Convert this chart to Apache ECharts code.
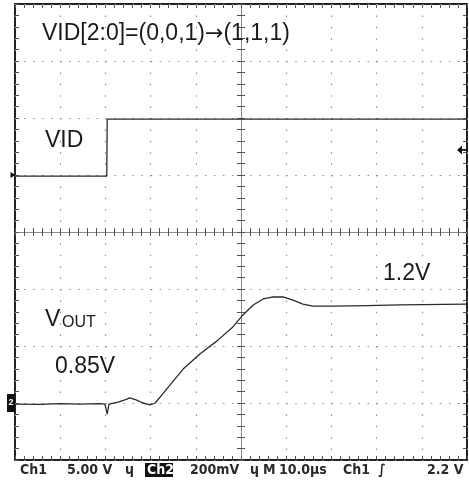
<!DOCTYPE html>
<html>
<head>
<meta charset="utf-8">
<style>
  html, body { margin: 0; padding: 0; background: #fff; }
  #chart { width: 469px; height: 485px; }
</style>
<script src="https://cdn.jsdelivr.net/npm/echarts@6/dist/echarts.min.js"></script>
</head>
<body>
<div id="chart"></div>
<script>
// Time in microseconds relative to the trigger (screen centre), 10 us/div
const vidTime  = [-50, -29.7, -29.6, 50];
const vidVolts = [-0.1, -0.1, 4.9, 4.9];          // Ch1, 5.00 V/div

const voutTime  = [-50, -44.5, -40, -35.6, -31.2, -30.1, -29.6, -29.2, -27.2, -25.7, -24.6, -23.2, -21.7, -20.1, -19.0, -17.3, -15.0, -12.8, -9.1, -5.3, -1.8, 0.2, 2.7, 4.9, 7.1, 9.3, 11.5, 13.7, 15.9, 20.4, 27.9, 35.2, 50];
const voutVolts = [0.846, 0.845, 0.848, 0.846, 0.848, 0.846, 0.811, 0.846, 0.853, 0.861, 0.868, 0.861, 0.850, 0.843, 0.850, 0.882, 0.927, 0.969, 1.022, 1.068, 1.117, 1.155, 1.194, 1.215, 1.222, 1.222, 1.211, 1.197, 1.190, 1.190, 1.192, 1.194, 1.197];  // Ch2, 200 mV/div

const triggerLevel = 2.2;   // Ch1 trigger, volts
const ch1Ground = 0;
const ch2Ref = 0.85;

const statusItems = [
  {t: 'Ch1', x: 20}, {t: '5.00 V', x: 67}, {t: 'ɥ', x: 125},
  {t: '200mV', x: 190}, {t: 'ɥ', x: 250}, {t: 'M', x: 263}, {t: '10.0μs', x: 279},
  {t: 'Ch1', x: 343}, {t: '∫', x: 378}, {t: '2.2 V', x: 427}
];

const chart = echarts.init(document.getElementById('chart'), null, {renderer: 'canvas'});

const GL = 15, GT = 4, GW = 452, GH = 456;
const gridDot = '#8f8f8f';
const tickColor = '#555';
const sans = "'Liberation Sans', Arial, sans-serif";
const narrow = "'Liberation Sans Narrow', 'DejaVu Sans Condensed', 'Liberation Sans', sans-serif";

function axis(dim, position, offset, lineShow, inside, len, split) {
  const base = dim === 'x'
    ? {type: 'value', min: -50, max: 50, interval: 10}
    : {type: 'value', min: -4, max: 4, interval: 1};
  return Object.assign(base, {
    position: position, offset: offset,
    axisLabel: {show: false},
    axisLine: {show: lineShow, onZero: false, lineStyle: {color: '#888', width: 1}},
    axisTick: {show: true, inside: inside, length: len, lineStyle: {color: tickColor, width: 1}},
    minorTick: {show: true, splitNumber: 5, length: len, lineStyle: {color: tickColor, width: 1}},
    splitLine: split ? {show: true, lineStyle: {color: gridDot, width: 1.2, type: split}} : {show: false}
  });
}

const option = {
  animation: false,
  backgroundColor: '#fff',
  grid: {left: GL, top: GT, width: GW, height: GH, show: true, borderColor: '#222', borderWidth: 2},
  xAxis: [
    axis('x', 'bottom', -1, false, true, 3, [1.5, 9.9]),
    axis('x', 'top', -1, false, true, 3, null),
    axis('x', 'bottom', -GH / 2, true, true, 4, null),
    axis('x', 'bottom', -GH / 2, true, false, 4, null)
  ],
  yAxis: [
    axis('y', 'left', -1, false, true, 3, [1.5, 7.54]),
    axis('y', 'right', -1, false, true, 3, null),
    axis('y', 'left', -GW / 2, true, true, 4, null),
    axis('y', 'left', -GW / 2, true, false, 4, null),
    {type: 'value', show: false, min: -25, max: 15, position: 'left'},
    {type: 'value', show: false, min: 0.65, max: 2.25, position: 'left'}
  ],
  series: [
    {
      name: 'VID', type: 'line', xAxisIndex: 0, yAxisIndex: 4,
      data: vidTime.map((t, i) => [t, vidVolts[i]]),
      showSymbol: false, lineStyle: {color: '#2b2b2b', width: 1.3},
      markPoint: {
        silent: true, label: {show: false},
        data: [
          {coord: [50, triggerLevel], symbol: 'path://M0,5 L6,0 L6,4 L12,4 L12,6 L6,6 L6,10 Z', symbolSize: [10, 9], symbolOffset: [-5, 0], itemStyle: {color: '#111'}},
          {coord: [-50, ch1Ground], symbol: 'path://M0,0 L6,5 L0,10 Z', symbolSize: [5, 6], symbolOffset: [-2, 0], itemStyle: {color: '#111'}}
        ]
      }
    },
    {
      name: 'VOUT', type: 'line', xAxisIndex: 0, yAxisIndex: 5,
      data: voutTime.map((t, i) => [t, voutVolts[i]]),
      showSymbol: false, lineStyle: {color: '#2b2b2b', width: 1.3},
      markPoint: {
        silent: true,
        data: [
          {coord: [-50, ch2Ref], symbol: 'rect', symbolSize: [8, 18], symbolOffset: [-4, 0],
           itemStyle: {color: '#111'},
           label: {show: true, formatter: '2', color: '#fff', fontSize: 9, fontWeight: 'bold', fontFamily: sans}}
        ]
      }
    }
  ],
  graphic: [
    {type: 'text', left: 42, top: 34 - 11.5, z: 100, style: {
      text: '{a|VID[2:0]=(0,0,1)}{b|→}{a|(1,1,1)}',
      rich: {
        a: {font: '23px ' + sans, fill: '#1a1a1a', verticalAlign: 'middle', lineHeight: 26},
        b: {font: '22px "DejaVu Sans", sans-serif', fill: '#1a1a1a', verticalAlign: 'middle', lineHeight: 26}
      }}},
    {type: 'text', left: 45, top: 141 - 11.5, style: {text: 'VID', fill: '#1a1a1a', font: '23px ' + sans}, z: 100},
    {type: 'text', left: 45, top: 320 - 11.5, style: {text: 'V', fill: '#1a1a1a', font: '23px ' + sans}, z: 100},
    {type: 'text', left: 62, top: 322.3 - 8, style: {text: 'OUT', fill: '#1a1a1a', font: '16px ' + sans}, z: 100},
    {type: 'text', left: 55, top: 366.5 - 11.5, style: {text: '0.85V', fill: '#1a1a1a', font: '23px ' + sans}, z: 100},
    {type: 'text', left: 383, top: 273.5 - 11.5, style: {text: '1.2V', fill: '#1a1a1a', font: '23px ' + sans}, z: 100},
    {type: 'rect', shape: {x: 145, y: 463, width: 28, height: 14}, style: {fill: '#111'}, z: 100},
    {type: 'text', left: 147, top: 463, style: {text: 'Ch2', fill: '#fff', font: 'bold 14px ' + narrow}, z: 101}
  ].concat(statusItems.map(s => ({
    type: 'text', left: s.x, top: 463, style: {text: s.t, fill: '#2a2a2a', font: 'bold 14px ' + narrow}, z: 100
  })))
};

chart.setOption(option);
</script>
</body>
</html>
